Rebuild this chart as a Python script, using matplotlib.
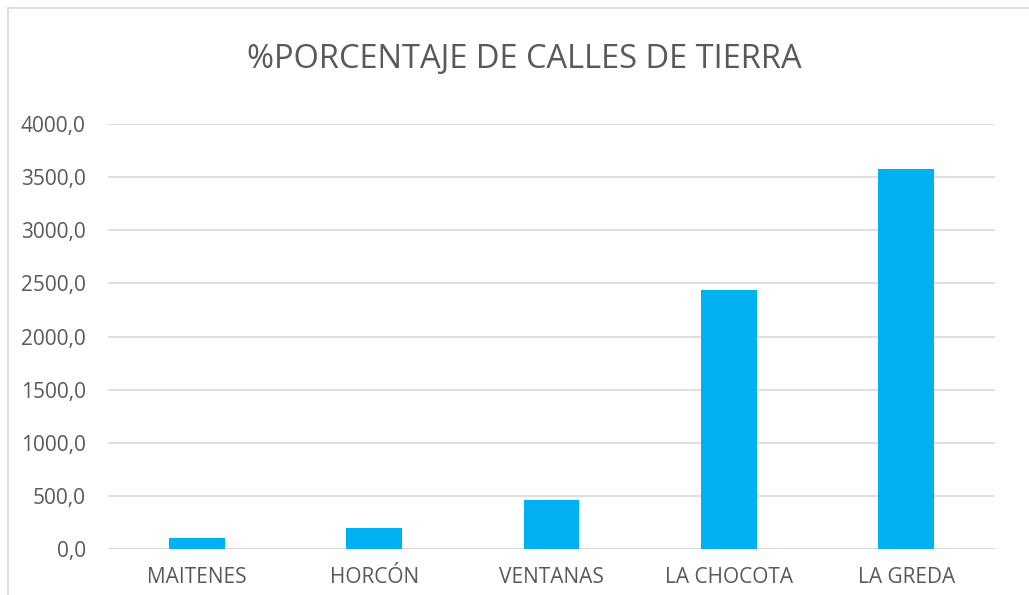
import matplotlib
matplotlib.use("Agg")
import matplotlib.pyplot as plt
from matplotlib.lines import Line2D

# datos del grafico
localidades = ["MAITENES", "HORCÓN", "VENTANAS", "LA CHOCOTA", "LA GREDA"]
valores = [100.0, 200.0, 460.0, 2440.0, 3580.0]
ticks_y = [0, 500, 1000, 1500, 2000, 2500, 3000, 3500, 4000]
titulo = "%PORCENTAJE DE CALLES DE TIERRA"

plt.rcParams['font.family'] = ['Open Sans', 'DejaVu Sans']

fig = plt.figure(figsize=(10.29, 5.95), dpi=100)
ax = fig.add_axes([0.105, 0.0773, 0.862, 0.7143])

x = range(len(localidades))
ax.bar(x, valores, width=0.315, color='#00b0f0', zorder=3)

ax.set_xlim(-0.5, len(localidades) - 0.5)
ax.set_ylim(0, 4000)
ax.set_yticks(ticks_y)
ax.set_yticklabels([f"{v:.1f}".replace('.', ',') for v in ticks_y])
ax.set_xticks(list(x))
ax.set_xticklabels(localidades)

ax.grid(axis='y', color='#d9d9d9', linewidth=1.2, zorder=0)
for s in ax.spines.values():
    s.set_visible(False)
ax.axhline(0, color='#d9d9d9', linewidth=1.2, zorder=1)
ax.tick_params(axis='both', length=0, labelsize=15, colors='#595959')
ax.tick_params(axis='y', pad=16)
ax.tick_params(axis='x', pad=13)

fig.text(0.51, 0.90, titulo, ha='center', va='center', fontsize=23.5,
         color='#595959')

# borde del area del grafico
fig.add_artist(Line2D([8 / 1029, 8 / 1029], [0, 1 - 8 / 595], transform=fig.transFigure,
                      color='#d9d9d9', linewidth=1.2))
fig.add_artist(Line2D([8 / 1029, 1], [1 - 8 / 595, 1 - 8 / 595], transform=fig.transFigure,
                      color='#d9d9d9', linewidth=1.2))

fig.savefig("out.png", dpi=100)
